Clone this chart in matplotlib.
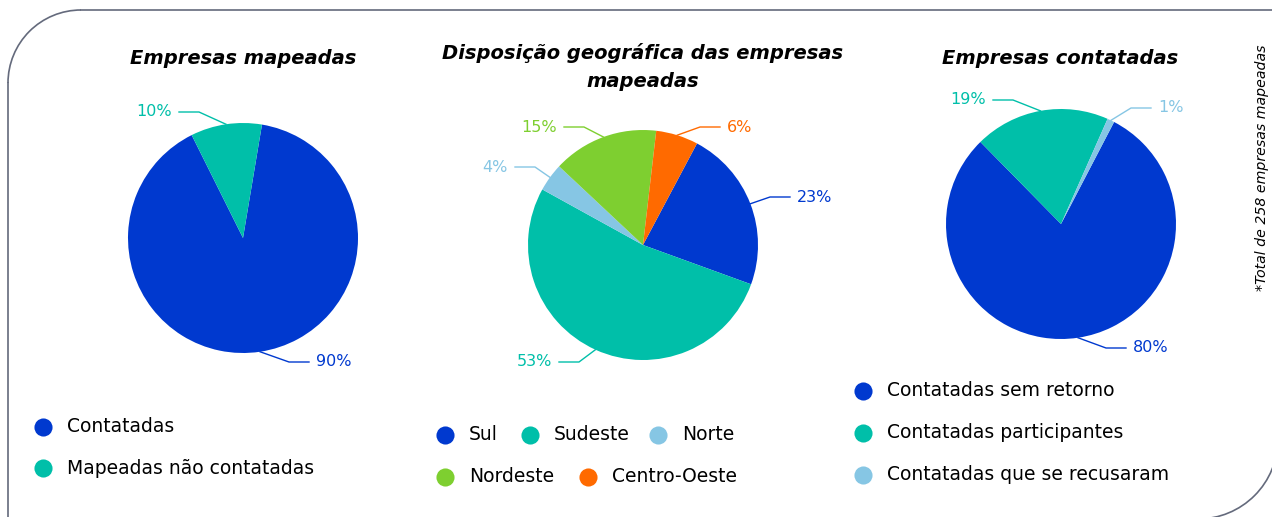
import numpy as np
import matplotlib.pyplot as plt
from matplotlib.patches import Arc

W, H = 1272, 517

# dados
mapeadas_labels = ['Contatadas', 'Mapeadas não contatadas']
mapeadas_vals = [90, 10]

regioes_labels = ['Sul', 'Sudeste', 'Norte', 'Nordeste', 'Centro-Oeste']
regioes_vals = [23, 53, 4, 15, 6]

contatadas_labels = ['Contatadas sem retorno', 'Contatadas participantes',
                     'Contatadas que se recusaram']
contatadas_vals = [80, 19, 1]

AZUL = '#0039CF'
TEAL = '#00BFA9'
CLARO = '#86C6E4'
VERDE = '#7ECF30'
LARANJA = '#FF6A00'

fig = plt.figure(figsize=(W / 100, H / 100), dpi=100)
ax = fig.add_axes([0, 0, 1, 1])


def py(y):
    return H - y


def pizza(vals, cores, centro, r, inicio, rotulos):
    cx, cy = centro[0], py(centro[1])
    wedges, _ = ax.pie(vals, colors=cores, startangle=inicio, counterclock=False,
                       center=(cx, cy), radius=r, frame=True,
                       wedgeprops=dict(linewidth=0))
    for w, v, c, (tx, ty) in zip(wedges, vals, cores, rotulos):
        ang = np.deg2rad((w.theta1 + w.theta2) / 2)
        x0 = cx + r * np.cos(ang)
        y0 = cy + r * np.sin(ang)
        lado = 1 if tx > centro[0] else -1
        ty = py(ty)
        x_fim = tx - lado * 7
        x_cot = x_fim - lado * 20
        ax.plot([x0, x_cot, x_fim], [y0, ty, ty], color=c, lw=1)
        ax.text(tx, ty, f'{v}%', color=c, fontsize=11.5,
                ha='left' if lado > 0 else 'right', va='center')


def legenda(itens, cores, posicoes):
    for lab, c, (x, y) in zip(itens, cores, posicoes):
        ax.scatter([x], [py(y)], s=170, color=c, linewidths=0)
        ax.text(x + 24, py(y), lab, fontsize=13.5, va='center', ha='left')


# pizza 1
pizza(mapeadas_vals, [AZUL, TEAL], (243, 238), 115, 80.5,
      [(316, 362), (172, 112)])
ax.text(243, py(58), 'Empresas mapeadas', fontsize=14, fontweight='bold',
        style='italic', ha='center', va='center')
legenda(mapeadas_labels, [AZUL, TEAL], [(43, 427), (43, 468)])

# pizza 2
cores2 = [AZUL, TEAL, CLARO, VERDE, LARANJA]
pizza(regioes_vals, cores2, (643, 245), 115, 62,
      [(797, 197), (552, 362), (508, 167), (557, 127), (727, 127)])
ax.text(643, py(67), 'Disposição geográfica das empresas\nmapeadas', fontsize=14,
        fontweight='bold', style='italic', ha='center', va='center',
        linespacing=1.6)
legenda(regioes_labels, cores2,
        [(445, 435), (530, 435), (658, 435), (445, 477), (588, 477)])

# pizza 3
cores3 = [AZUL, TEAL, CLARO]
pizza(contatadas_vals, cores3, (1061, 224), 115, 62.5,
      [(1133, 348), (986, 100), (1158, 108)])
ax.text(1060, py(58), 'Empresas contatadas', fontsize=14, fontweight='bold',
        style='italic', ha='center', va='center')
legenda(contatadas_labels, cores3, [(863, 391), (863, 433), (863, 475)])

ax.text(1262, py(168), '*Total de 258 empresas mapeadas', fontsize=10.2,
        style='italic', rotation=90, ha='center', va='center')

# moldura arredondada
borda = '#646A7C'
ax.plot([1280, 81], [py(10), py(10)], color=borda, lw=1.2)
ax.plot([8, 8], [py(83), -5], color=borda, lw=1.2)
ax.add_patch(Arc((81, py(83)), 146, 146, theta1=90, theta2=180, color=borda, lw=1.2))
ax.add_patch(Arc((1198, py(439)), 160, 160, theta1=270, theta2=360, color=borda, lw=1.2))

ax.set_xlim(0, W)
ax.set_ylim(0, H)
ax.axis('off')

fig.savefig('out.png', dpi=100)
